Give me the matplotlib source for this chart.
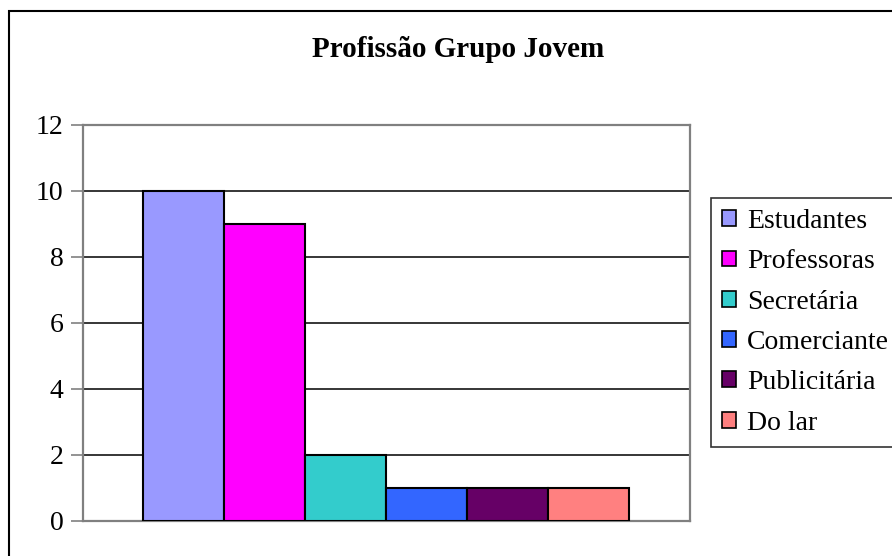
import matplotlib.pyplot as plt
from matplotlib.patches import Patch, Rectangle

plt.rcParams['font.family'] = ['Liberation Serif', 'DejaVu Serif']

profissoes = ['Estudantes', 'Professoras', 'Secretária', 'Comerciante', 'Publicitária', 'Do lar']
quantidades = [10, 9, 2, 1, 1, 1]
cores = ['#9999FF', '#FF00FF', '#33CCCC', '#3366FF', '#660066', '#FF8080']
y_ticks = [0, 2, 4, 6, 8, 10, 12]

W, H = 892, 556
fig = plt.figure(figsize=(W / 100, H / 100), dpi=100)

# chart area border (runs off the right and bottom edges)
fig.patches.append(Rectangle((9 / W, -0.1), 1.2, 1 - 11 / H + 0.1, transform=fig.transFigure,
                             fill=False, edgecolor='black', linewidth=1.5, zorder=0))

ax = fig.add_axes([83 / W, (H - 521) / H, (690 - 83) / W, (521 - 125) / H])

x = list(range(len(profissoes)))
ax.bar(x, quantidades, width=1.0, color=cores, edgecolor='black', linewidth=1.5, zorder=3)

ax.set_xlim(-0.5 - 0.74, len(profissoes) - 0.5 + 0.75)
ax.set_ylim(0, 12)
ax.set_yticks(y_ticks)
ax.set_xticks([])
ax.tick_params(axis='y', direction='out', length=9, width=1.2, color='#808080',
               labelsize=20, pad=5)

for v in y_ticks[1:-1]:
    ax.axhline(v, color='black', linewidth=1.1, zorder=1)

for s in ax.spines.values():
    s.set_color('#808080')
    s.set_linewidth(1.6)

fig.text(458 / W, 1 - 57 / H, 'Profissão Grupo Jovem', ha='center', va='baseline',
         fontsize=21, fontweight='bold')

handles = [Patch(facecolor=c, edgecolor='black', linewidth=1.2) for c in cores]
leg = fig.legend(handles, profissoes, loc='upper left', bbox_to_anchor=(711 / W, 1 - 198 / H),
                 fontsize=20, frameon=True, fancybox=False, edgecolor='black',
                 handlelength=0.5, handleheight=0.5, handletextpad=0.4,
                 labelspacing=0.55, borderpad=0.4, borderaxespad=0)
leg.get_frame().set_linewidth(1.2)

fig.savefig('out.png', dpi=100)
